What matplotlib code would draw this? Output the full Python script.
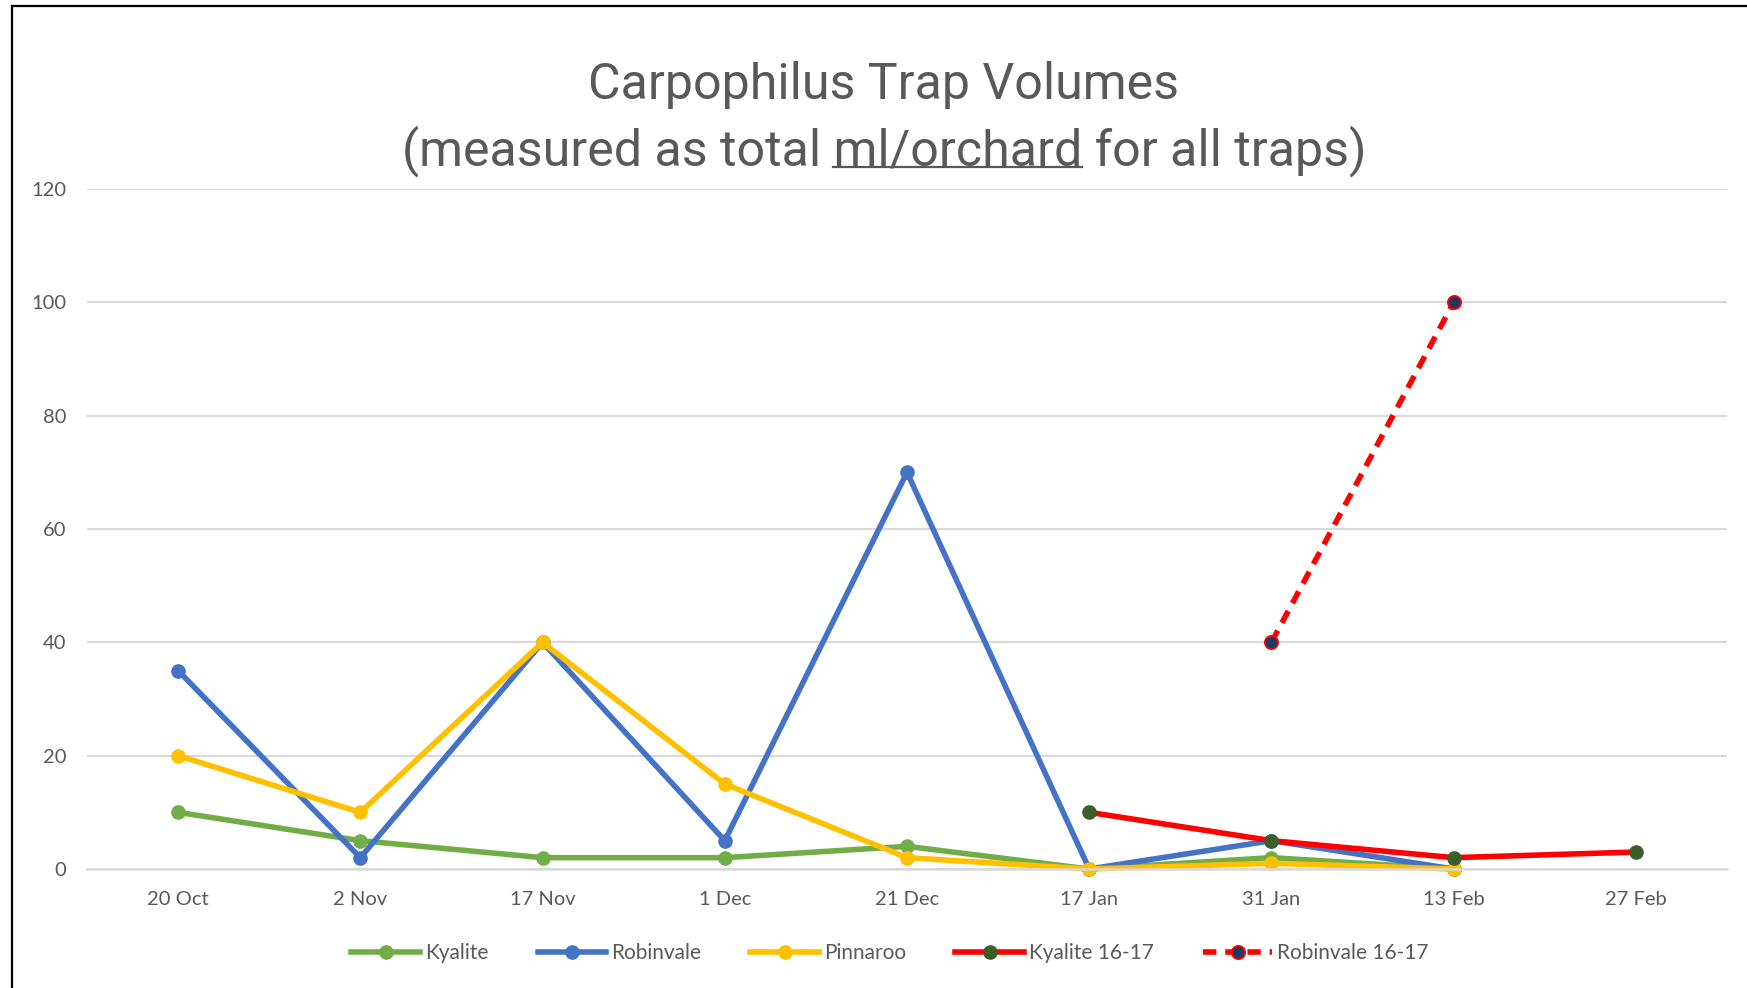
import numpy as np
import matplotlib
matplotlib.use("Agg")
import matplotlib.pyplot as plt
from matplotlib.lines import Line2D

# --- data -------------------------------------------------------------
dates = ["20 Oct", "2 Nov", "17 Nov", "1 Dec", "21 Dec",
         "17 Jan", "31 Jan", "13 Feb", "27 Feb"]
nan = np.nan
kyalite = [10, 5, 2, 2, 4, 0, 2, 0, nan]
robinvale = [35, 2, 40, 5, 70, 0, 5, 0, nan]
pinnaroo = [20, 10, 40, 15, 2, 0, 1, 0, nan]
kyalite_1617 = [nan, nan, nan, nan, nan, 10, 5, 2, 3]
robinvale_1617 = [nan, nan, nan, nan, nan, nan, 40, 100, nan]

W, H = 1747, 988
GREY = "#595959"
BODY = ["Lato", "DejaVu Sans"]
TITLE = ["Roboto", "DejaVu Sans"]
TITLE_KW = dict(family=TITLE, weight="normal", stretch="condensed")

fig = plt.figure(figsize=(W / 100, H / 100), dpi=100)
ax = fig.add_axes([87 / W, 1 - 869 / H, (1727 - 87) / W, (869 - 189) / H])

x = np.arange(len(dates))
lw = 4.0
ms = 9.5
ax.plot(x, kyalite, color="#70AD47", lw=lw, marker="o", ms=ms, label="Kyalite", clip_on=False)
ax.plot(x, robinvale, color="#4472C4", lw=lw, marker="o", ms=ms, label="Robinvale", clip_on=False)
ax.plot(x, pinnaroo, color="#FFC000", lw=lw, marker="o", ms=ms, label="Pinnaroo", clip_on=False)
ax.plot(x, kyalite_1617, color="#FF0000", lw=lw, marker="o", ms=ms,
        markerfacecolor="#3B5E2B", markeredgecolor="#3B5E2B", label="Kyalite 16-17", clip_on=False)
ax.plot(x, robinvale_1617, color="#FF0000", lw=lw, ls=(0, (2.4, 1.6)), marker="o", ms=ms,
        markerfacecolor="#203864", markeredgecolor="#FF0000", markeredgewidth=1.3,
        label="Robinvale 16-17", clip_on=False)

ax.set_xlim(-0.5, len(dates) - 0.5)
ax.set_ylim(0, 120)
ax.set_yticks(np.arange(0, 121, 20))
ax.set_xticks(x)
ax.set_xticklabels(dates)
ax.yaxis.grid(True, color="#D9D9D9", lw=1.5)
ax.set_axisbelow(True)
for s in ["top", "right", "left"]:
    ax.spines[s].set_visible(False)
ax.spines["bottom"].set_color("#D9D9D9")
ax.spines["bottom"].set_linewidth(1.8)
ax.tick_params(axis="both", length=0, colors=GREY, labelsize=14.5)
ax.tick_params(axis="x", pad=16)
ax.tick_params(axis="y", pad=15)
for lab in ax.get_xticklabels() + ax.get_yticklabels():
    lab.set_family(BODY)

leg = fig.legend(loc="center", bbox_to_anchor=(890 / W, 1 - 953 / H), ncol=5,
                 frameon=False, prop={"family": BODY, "size": 15},
                 handlelength=3.3, handletextpad=0.25, columnspacing=2.35)
for t in leg.get_texts():
    t.set_color(GREY)

# --- title, second line with underlined "ml/orchard" -------------------
line1 = "Carpophilus Trap Volumes"
line2 = "(measured as total ml/orchard for all traps)"
cx = 884 / W
t1 = fig.text(cx, 1 - 85 / H, line1, ha="center", va="center", color=GREY,
              size=36, **TITLE_KW)
t2 = fig.text(cx, 1 - 151 / H, line2, ha="center", va="center", color=GREY,
              size=36, **TITLE_KW)
fig.canvas.draw()
r = fig.canvas.get_renderer()
# scale the title font so line 2 spans the width seen in the chart
w2 = t2.get_window_extent(r).width
size = 36 * 964 / w2
t1.set_size(size)
t2.set_size(size)
fig.canvas.draw()

def width_of(s):
    tmp = fig.text(0, 0, s, size=size, **TITLE_KW)
    w = tmp.get_window_extent(r).width
    tmp.remove()
    return w

bb = t2.get_window_extent(r)
w_a = width_of("(measured as total ml/orchard")
w_b = width_of("ml/orchard")
x0 = bb.x0 + w_a - w_b
x1 = bb.x0 + w_a
y_ul = bb.y0 + bb.height * 0.2
fig.add_artist(Line2D([x0 / W, x1 / W], [y_ul / H, y_ul / H], color=GREY, lw=1.6,
                      transform=fig.transFigure))

# black frame on the left and top edges (cropped from the slide)
fig.add_artist(Line2D([12 / W, 12 / W], [0, 1 - 6 / H], color="black", lw=1.6,
                      transform=fig.transFigure))
fig.add_artist(Line2D([12 / W, 1], [1 - 6 / H, 1 - 6 / H], color="black", lw=1.6,
                      transform=fig.transFigure))

fig.savefig("out.png", dpi=100, facecolor="white")
